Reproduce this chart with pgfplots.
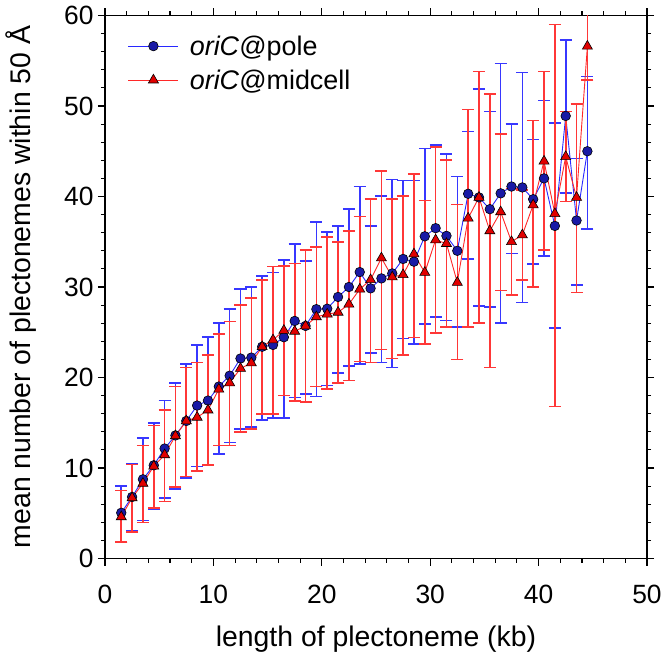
\documentclass[border=0pt]{standalone}
\usepackage{fontspec}
\setmainfont{Liberation Sans}
\usepackage{pgfplots}
\usepackage{pgfplotstable}
\pgfplotsset{compat=1.18}
\definecolor{lineblue}{RGB}{40,40,255}
\definecolor{errblue}{RGB}{55,55,255}
\definecolor{markblue}{RGB}{25,25,165}
\definecolor{linered}{RGB}{255,40,40}
\definecolor{errred}{RGB}{255,55,55}
\definecolor{markred}{RGB}{225,0,0}

\pgfplotstableread{
x y ep em
1.5 5.05 2.95 3.25
2.5 6.8 3.65 3.7
3.5 8.75 4.55 4.55
4.5 10.3 4.65 4.9
5.5 12.15 5.3 5.45
6.5 13.6 5.8 5.9
7.5 15.2 6.3 6.3
8.5 16.9 6.7 6.75
9.5 17.45 7.05 7.15
10.5 19.0 7.0 7.45
11.5 20.2 7.4 7.4
12.5 22.1 7.65 7.8
13.5 22.2 7.8 7.7
14.5 23.4 7.8 8.1
15.5 23.6 8.0 8.1
16.5 24.45 8.55 8.95
17.5 26.25 8.5 8.45
18.5 25.7 7.2 7.5
19.5 27.55 9.65 9.65
20.5 27.6 8.5 8.5
21.5 28.9 7.85 8.4
22.5 30.0 8.6 8.7
23.5 31.65 9.45 10.15
24.5 29.85 6.9 7.15
25.5 30.95 9.1 9.3
26.5 31.5 10.4 10.4
27.5 33.1 8.65 8.8
28.5 32.8 8.95 9.1
29.5 35.6 9.7 9.7
30.5 36.5 9.2 9.8
31.5 35.65 9.05 9.35
32.5 34.0 8.2 8.4
33.5 40.3 6.9 7.2
34.5 39.9 12.0 12.0
35.5 38.6 10.8 10.8
36.5 40.35 14.35 14.35
37.5 41.1 6.9 7.4
38.5 41.0 12.7 12.7
39.5 39.7 6.6 7.15
40.5 42.0 8.6 8.6
41.5 36.75 11.35 11.3
42.5 48.9 8.4 8.5
43.5 37.35 6.85 7.15
44.5 45.0 8.25 8.6
}\pole

\pgfplotstableread{
x y ep em
1.5 4.6 2.9 2.8
2.5 6.7 3.7 3.8
3.5 8.3 4.2 4.3
4.5 10.2 4.5 4.6
5.5 11.45 4.95 5.15
6.5 13.55 5.45 5.65
7.5 15.2 5.9 6.15
8.5 15.6 6.05 5.9
9.5 16.4 6.1 6.1
10.5 18.7 6.1 6.2
11.5 19.4 6.8 6.9
12.5 21.0 7.0 7.0
13.5 21.6 7.2 7.3
14.5 23.4 7.4 7.4
15.5 24.15 8.1 8.15
16.5 25.2 7.1 7.2
17.5 25.1 7.5 7.7
18.5 25.7 8.4 8.4
19.5 26.7 7.7 7.7
20.5 27.0 8.5 8.3
21.5 27.2 7.8 7.8
22.5 28.1 8.1 8.45
23.5 29.75 8.05 8.0
24.5 30.8 8.9 9.15
25.5 33.2 9.65 10.1
26.5 31.1 8.6 9.0
27.5 31.35 8.7 8.85
28.5 33.65 8.85 9.25
29.5 31.6 7.95 7.9
30.5 35.2 10.25 10.25
31.5 34.8 9.25 9.2
32.5 30.5 8.6 8.5
33.5 37.6 12.0 12.0
34.5 39.9 13.9 13.9
35.5 36.2 15.1 15.1
36.5 38.3 8.6 8.7
37.5 35.0 5.9 5.9
38.5 35.75 4.95 4.95
39.5 39.07 9.33 9.07
40.5 43.9 9.9 9.8
41.5 38.1 20.9 21.3
42.5 44.4 5.0 4.95
43.5 39.9 10.3 10.5
44.5 56.6 3.7 3.7
}\midcell

\begin{document}
\begin{tikzpicture}
\begin{axis}[
  scale only axis, width=542bp, height=543bp,
  xmin=0, xmax=50, ymin=0, ymax=60,
  xtick={0,10,...,50}, ytick={0,10,...,60},
  minor tick num=4,
  tick align=outside,
  major tick length=7bp, minor tick length=4bp,
  axis line style={line width=1.3bp, black},
  every tick/.style={black, line width=1.1bp},
  /pgf/number format/assume math mode=true,
  tick label style={font=\fontsize{26.5}{31}\selectfont},
  xticklabel style={yshift=-16bp},
  yticklabel style={xshift=-1bp},
  label style={font=\fontsize{28.5}{34}\selectfont},
  xlabel={length of plectoneme (kb)},
  ylabel={mean number of plectonemes within 50 Å},
  xlabel style={at={(axis description cs:0.5,-0.148)}, anchor=center},
  ylabel style={at={(axis description cs:-0.155,0.5)}, anchor=center},
  legend style={draw=none, fill=none, inner sep=0pt,
    at={(axis description cs:0.042,0.967)}, anchor=north west,
    font=\fontsize{27}{32}\selectfont, row sep=9bp},
  legend cell align=left,
  legend image code/.code={\draw[mark repeat=2,mark phase=2] plot coordinates {(0bp,0bp)(25bp,0bp)(50bp,0bp)};},
]
\addplot[color=lineblue, line width=0.9bp, mark=*, mark size=4.8bp,
  mark options={fill=markblue, draw=black, line width=0.6bp},
  error bars/.cd, y dir=both, y explicit,
  error bar style={line width=1.6bp, color=errblue},
  error mark options={rotate=90, line width=1.6bp, color=errblue, mark size=6bp}]
  table[x=x, y=y, y error plus=ep, y error minus=em] {\pole};
\addlegendentry{\hspace{9bp}\textit{oriC}@pole}
\addplot[color=linered, line width=0.9bp, mark=triangle*, mark size=5.8bp,
  mark options={fill=markred, draw=black, line width=0.6bp},
  error bars/.cd, y dir=both, y explicit,
  error bar style={line width=1.6bp, color=errred},
  error mark options={rotate=90, line width=1.6bp, color=errred, mark size=6bp}]
  table[x=x, y=y, y error plus=ep, y error minus=em] {\midcell};
\addlegendentry{\hspace{9bp}\textit{oriC}@midcell}
\end{axis}
\pgfresetboundingbox
\path (current axis.south west)+(-105bp,-98.4bp) rectangle ([xshift=16bp,yshift=15.5bp]current axis.north east);
\end{tikzpicture}
\end{document}
